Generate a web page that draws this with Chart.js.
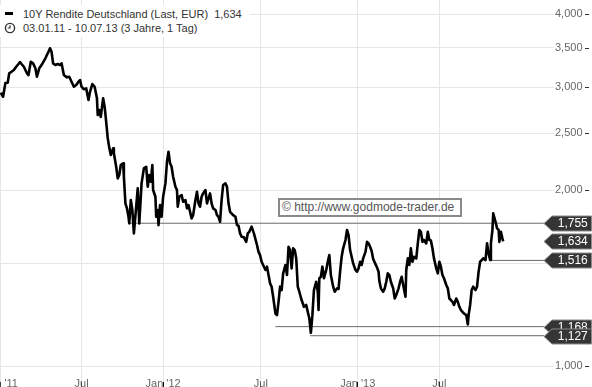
<!DOCTYPE html>
<html>
<head>
<meta charset="utf-8">
<script src="https://cdn.jsdelivr.net/npm/chart.js@4.4.0/dist/chart.umd.min.js"></script>
<style>
html,body{margin:0;padding:0;background:#fff;}
#wrap{position:relative;width:592px;height:387px;overflow:hidden;font-family:"Liberation Sans",Arial,sans-serif;}
#c{position:absolute;left:0;top:0;}
#legend{position:absolute;left:0;top:5px;width:250px;height:32px;background:#fff;font-size:11px;color:#333;line-height:14px;}
#legend .row{position:absolute;left:23px;white-space:nowrap;}
#legend .dash{position:absolute;left:5px;top:7px;width:8px;height:3px;background:#000;}
#legend svg{position:absolute;left:4px;top:17px;}
#wm{position:absolute;left:278px;top:198px;width:184px;height:19px;box-sizing:border-box;border:2px solid #8a8a8a;background:#fff;font-size:12px;color:#555;line-height:15px;padding-left:2px;white-space:nowrap;}
</style>
</head>
<body>
<div id="wrap">
<canvas id="c" width="592" height="387"></canvas>
<div id="legend">
  <div class="dash"></div>
  <div class="row" style="top:2px">10Y Rendite Deutschland (Last, EUR)&nbsp; 1,634</div>
  <svg width="12" height="12" viewBox="0 0 12 12"><circle cx="6" cy="6" r="4.6" fill="none" stroke="#333" stroke-width="1.4"/><path d="M6 3.2 V6 H3.8" fill="none" stroke="#333" stroke-width="1.2"/></svg>
  <div class="row" style="top:16px">03.01.11 - 10.07.13 (3 Jahre, 1 Tag)</div>
</div>
<div id="wm">© http://www.godmode-trader.de</div>
</div>
<script>
// trading-day index of each sampled point (0 = 03.01.2011)
const days = [
0,3,6,9,11,14,17,20,23,25,
27,30,34,36,39,42,45,47,50,53,
58,62,64,66,68,71,74,77,79,82,
86,89,92,95,98,101,103,105,108,111,
114,116,119,122,125,126,128,130,133,135,
137,139,141,143,146,147,150,152,154,156,
159,160,162,164,166,167,169,171,173,176,
178,180,183,186,189,191,193,195,197,198,
201,202,204,205,207,209,211,214,216,218,
220,222,224,227,229,230,232,235,237,240,
242,244,246,248,250,253,255,257,259,261,
263,266,268,270,272,274,276,279,281,283,
285,287,289,292,294,296,298,302,305,307,
309,311,313,316,319,321,323,326,329,333,
335,337,339,341,344,346,348,350,352,354,
357,359,361,363,365,367,370,372,374,376,
378,380,382,384,386,388,391,394,397,399,
401,403,405,407,410,412,413,414,416,418,
420,423,425,427,429,432,434,437,439,441,
443,445,448,450,452,454,456,458,461,463,
465,467,469,471,474,476,478,480,482,484,
487,489,491,492,494,497,499,501,503,505,
507,510,512,514,517,519,521,523,526,527,
529,531,533,535,537,540,542,544,546,548,
550,553,555,557,559,561,563,566,568,570,
572,574,576,579,581,583,585,587,589,592,
594,596,598,600,602,605,607,608,610,612,
614,617,619,621,623,625,627,630,632,634,
636,637,639,640,643,645,647,648,650,652,653];
// 10Y Bund yield (%)
const yields = [
2.934,2.888,3.048,3.052,3.167,3.187,3.208,3.250,3.285,3.311,
3.285,3.250,3.167,3.146,3.315,3.294,3.230,3.125,3.230,3.272,
3.360,3.448,3.495,3.448,3.294,3.272,3.285,3.272,3.294,3.146,
3.117,3.125,3.064,3.004,3.024,3.064,3.084,3.004,2.974,2.985,
2.851,2.945,3.036,3.004,2.870,2.687,2.741,2.668,2.870,2.777,
2.617,2.455,2.364,2.296,2.357,2.311,2.192,2.094,2.122,2.207,
2.222,2.108,1.898,1.861,1.800,1.754,1.923,1.849,1.686,1.873,
2.013,1.754,2.053,2.178,2.192,2.026,2.122,2.066,2.207,2.000,
1.948,1.800,1.849,1.742,1.885,1.800,1.948,2.053,2.236,2.326,
2.222,2.192,2.108,2.026,2.000,1.873,1.948,1.961,1.910,1.923,
1.861,1.885,1.836,1.789,1.812,1.923,1.987,1.898,1.873,1.948,
1.974,2.000,1.898,1.936,1.974,1.898,1.861,1.849,1.812,1.800,
1.765,1.923,2.040,2.053,2.026,1.898,1.836,1.812,1.800,1.742,
1.738,1.686,1.664,1.660,1.631,1.686,1.697,1.731,1.686,1.611,
1.568,1.548,1.508,1.489,1.460,1.479,1.431,1.385,1.367,1.314,
1.230,1.222,1.288,1.367,1.349,1.441,1.489,1.431,1.600,1.579,
1.469,1.590,1.579,1.528,1.367,1.340,1.297,1.263,1.272,1.238,
1.207,1.140,1.222,1.349,1.394,1.340,1.247,1.413,1.421,1.479,
1.413,1.460,1.508,1.548,1.431,1.367,1.340,1.358,1.355,1.450,
1.538,1.590,1.643,1.709,1.675,1.579,1.538,1.498,1.460,1.450,
1.469,1.508,1.489,1.528,1.568,1.631,1.621,1.600,1.573,1.524,
1.494,1.474,1.450,1.398,1.358,1.340,1.358,1.394,1.441,1.431,
1.394,1.358,1.305,1.323,1.358,1.394,1.421,1.376,1.314,1.460,
1.528,1.489,1.590,1.508,1.538,1.528,1.621,1.709,1.697,1.631,
1.643,1.621,1.697,1.643,1.640,1.590,1.528,1.469,1.441,1.508,
1.479,1.431,1.413,1.376,1.358,1.305,1.297,1.288,1.272,1.305,
1.288,1.263,1.247,1.238,1.230,1.222,1.178,1.222,1.272,1.349,
1.367,1.349,1.367,1.450,1.508,1.518,1.528,1.518,1.621,1.558,
1.518,1.621,1.709,1.825,1.765,1.720,1.709,1.631,1.697,1.652,1.634];

const xTickDays   = [0, 105, 211, 338, 464, 570];
const xTickLabels = ["Jan '11", "Jul", "Jan '12", "Jul", "Jan '13", "Jul"];
const yTickValues = [1, 1.5, 2, 2.5, 3, 3.5, 4];

const levelValues    = [1.755, 1.516, 1.168, 1.127];
const levelStartDays = [166, 636, 357, 402];
const levelEndDay    = 706;
const tagValues      = [1.755, 1.634, 1.516, 1.168, 1.127];

const fmt = v => v.toFixed(3).replace('.', ',');
const FONT = '"Liberation Sans", Arial, sans-serif';
Chart.defaults.font.family = FONT;

const datasets = [{
  data: days.map((d, i) => ({x: d, y: yields[i]})),
  borderColor: '#000', borderWidth: 2.6, pointRadius: 0, tension: 0,
  borderJoinStyle: 'round', order: 0
}];
levelValues.forEach((v, i) => {
  datasets.push({
    data: [{x: levelStartDays[i], y: v}, {x: levelEndDay, y: v}],
    borderColor: '#6a6a6a', borderWidth: 1, pointRadius: 0, order: 1
  });
});

const extras = {
  id: 'extras',
  afterDraw(chart) {
    const ctx = chart.ctx, y = chart.scales.y, ca = chart.chartArea;
    ctx.save();
    // little dashes right of y labels
    ctx.strokeStyle = '#333'; ctx.lineWidth = 1;
    y.ticks.forEach(t => {
      const py = Math.round(y.getPixelForValue(t.value)) + 0.5;
      ctx.beginPath(); ctx.moveTo(585, py); ctx.lineTo(589, py); ctx.stroke();
    });
    // value tags
    tagValues.forEach(v => {
      const py = Math.round(y.getPixelForValue(v)) + 0.5;
      const tip = ca.right - 10, body = tip + 8, right = chart.width - 0.5, h = 7.5;
      ctx.beginPath();
      ctx.moveTo(tip, py);
      ctx.lineTo(body, py - h);
      ctx.lineTo(right, py - h);
      ctx.lineTo(right, py + h);
      ctx.lineTo(body, py + h);
      ctx.closePath();
      ctx.fillStyle = '#353535'; ctx.fill();
      ctx.strokeStyle = '#8a8a8a'; ctx.lineWidth = 1; ctx.stroke();
      ctx.fillStyle = '#fff'; ctx.font = '12px ' + FONT;
      ctx.textAlign = 'center'; ctx.textBaseline = 'middle';
      ctx.fillText(fmt(v), (body + right) / 2 + 1, py + 0.5);
    });
    ctx.restore();
  }
};

new Chart(document.getElementById('c'), {
  type: 'line',
  data: {datasets},
  plugins: [extras],
  options: {
    responsive: false, animation: false, devicePixelRatio: 1,
    layout: {autoPadding: false, padding: 0},
    plugins: {legend: {display: false}, tooltip: {enabled: false}},
    scales: {
      x: {
        type: 'linear', min: -1, max: 719, bounds: 'data',
        afterBuildTicks: s => { s.ticks = xTickDays.map(v => ({value: v})); },
        afterFit: s => { s.height = 5; s.paddingLeft = 0; s.paddingRight = 0; },
        grid: {color: '#e6e6e6', tickColor: '#000', tickLength: 5, lineWidth: 1},
        border: {display: false},
        ticks: {
          autoSkip: false, maxRotation: 0, mirror: true, padding: -9,
          color: '#666', font: {size: 11},
          callback: (v, i) => xTickLabels[i]
        }
      },
      y: {
        type: 'logarithmic', position: 'right', min: 0.9392, max: 4.227, bounds: 'data',
        afterBuildTicks: s => { s.ticks = yTickValues.map(v => ({value: v})); },
        afterFit: s => { s.width = 38; s.paddingTop = 0; s.paddingBottom = 0; },
        grid: {color: '#e6e6e6', drawTicks: false},
        border: {display: false},
        ticks: {padding: 1, color: '#666', font: {size: 11}, callback: v => fmt(v)}
      }
    }
  }
});
</script>
</body>
</html>
